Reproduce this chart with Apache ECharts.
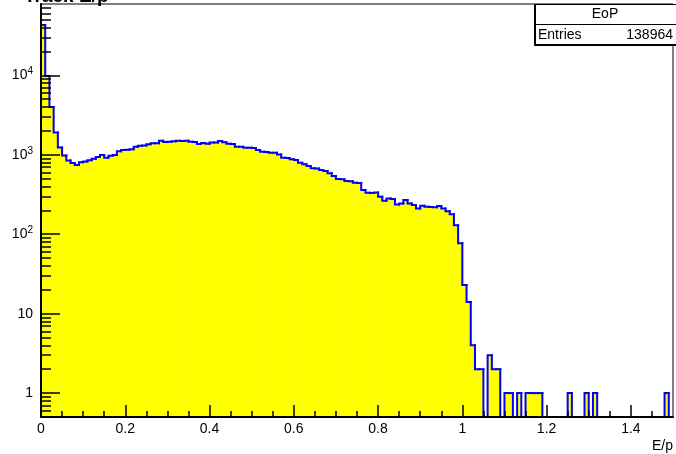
<!DOCTYPE html>
<html><head><meta charset="utf-8">
<script src="https://cdn.jsdelivr.net/npm/echarts@6/dist/echarts.min.js"></script>
<style>html,body{margin:0;padding:0;background:#fff}#c{width:676px;height:454px}</style>
</head><body><div id="c"></div>
<script>
// Histogram "EoP": 150 bins of width 0.01 from 0 to 1.5
const histName = 'EoP';
const entries = 138964;
const binStart = 0;
const binWidth = 0.01;
const counts = [
  43000, 9800, 3990, 1905, 1233, 982, 849, 786, 741, 805,
  820, 855, 890, 940, 990, 920, 975, 990, 1110, 1145,
  1160, 1170, 1260, 1300, 1310, 1360, 1400, 1395, 1500, 1450,
  1460, 1480, 1500, 1495, 1505, 1460, 1450, 1370, 1410, 1372,
  1430, 1428, 1490, 1432, 1376, 1370, 1262, 1258, 1225, 1221,
  1213, 1146, 1091, 1080, 1060, 1057, 1011, 916, 913, 875,
  857, 793, 757, 720, 674, 671, 641, 623, 583, 539,
  494, 491, 466, 463, 444, 441, 359, 332, 330, 334,
  296, 264, 282, 277, 237, 244, 269, 244, 233, 211,
  228, 221, 220, 218, 226, 211, 194, 178, 130, 77,
  23, 14, 4, 2, 2, 0, 3, 2, 2, 0,
  1, 1, 0, 1, 0, 1, 1, 1, 1, 0,
  0, 0, 0, 0, 0, 1, 0, 0, 0, 1,
  0, 1, 0, 0, 0, 0, 0, 0, 0, 0,
  0, 0, 0, 0, 0, 0, 0, 0, 1, 0
];
const xMajorTicks = [0, 0.2, 0.4, 0.6, 0.8, 1, 1.2, 1.4];
const xMinorTicks = [0.05, 0.1, 0.15, 0.25, 0.3, 0.35, 0.45, 0.5, 0.55, 0.65, 0.7, 0.75,
  0.85, 0.9, 0.95, 1.05, 1.1, 1.15, 1.25, 1.3, 1.35, 1.45];
const yMajorTicks = [1, 10, 100, 1000, 10000];
const yMinorTicks = [0.6, 0.7, 0.8, 0.9,
  2, 3, 4, 5, 6, 7, 8, 9,
  20, 30, 40, 50, 60, 70, 80, 90,
  200, 300, 400, 500, 600, 700, 800, 900,
  2000, 3000, 4000, 5000, 6000, 7000, 8000, 9000,
  20000, 30000, 40000, 50000, 60000, 70000];
const xMin = 0, xMax = 1.5, yMin = 0.5, yMax = 79000;

const binData = counts.map((c, i) => [
  binStart + i * binWidth, binStart + (i + 1) * binWidth, c, i > 0 ? counts[i - 1] : 0
]);

function yOf(api, cs, v) {
  const bottom = cs.y + cs.height;
  if (!(v > 0)) return bottom;
  return Math.min(api.coord([0, v])[1], bottom);
}
function renderFill(params, api) {
  const cs = params.coordSys;
  const v = api.value(2);
  if (!(v > 0)) return null;
  const x0 = api.coord([api.value(0), 1])[0];
  const x1 = api.coord([api.value(1), 1])[0];
  const bottom = cs.y + cs.height;
  const y = yOf(api, cs, v);
  return { type: 'rect', shape: { x: x0, y: y, width: x1 - x0 + 0.6, height: bottom - y },
    style: { fill: '#ffff00' } };
}
function renderLine(params, api) {
  const cs = params.coordSys;
  const x0 = api.coord([api.value(0), 1])[0];
  const x1 = api.coord([api.value(1), 1])[0];
  const yv = yOf(api, cs, api.value(2));
  const yp = yOf(api, cs, api.value(3));
  return { type: 'polyline', shape: { points: [[x0, yp], [x0, yv], [x1, yv]] },
    style: { stroke: '#0000ff', lineWidth: 2, fill: null, lineJoin: 'miter', lineCap: 'square' } };
}

const font = 'Liberation Sans, Arial, Helvetica, sans-serif';
const chart = echarts.init(document.getElementById('c'), null, { renderer: 'canvas' });
chart.setOption({
  animation: false,
  backgroundColor: '#ffffff',
  grid: { left: 41, right: 3, top: 4, bottom: 37, show: true, borderColor: '#000', borderWidth: 1,
    backgroundColor: 'transparent' },
  xAxis: [{
    type: 'value', min: xMin, max: xMax, z: 10,
    axisLine: { show: true, onZero: false, lineStyle: { color: '#000', width: 2 } },
    axisTick: { show: true, inside: true, length: 12, lineStyle: { color: '#000', width: 1.5 }, customValues: xMajorTicks },
    axisLabel: { show: true, margin: 5, color: '#000', fontSize: 14, fontFamily: font, customValues: xMajorTicks,
      formatter: v => String(Math.round(v * 10) / 10) },
    splitLine: { show: false },
    name: 'E/p', nameLocation: 'end', nameGap: 0,
    nameTextStyle: { color: '#000', fontSize: 14, fontFamily: font, align: 'right', verticalAlign: 'top', padding: [22, 0, 0, 0] }
  }, {
    type: 'value', min: xMin, max: xMax, position: 'bottom', z: 10, gridIndex: 0,
    axisLine: { show: false },
    axisTick: { show: true, inside: true, length: 6, lineStyle: { color: '#000', width: 1.5 }, customValues: xMinorTicks },
    axisLabel: { show: false },
    splitLine: { show: false }
  }],
  yAxis: [{
    type: 'log', logBase: 10, min: yMin, max: yMax, z: 10,
    axisLine: { show: true, onZero: false, lineStyle: { color: '#000', width: 2 } },
    axisTick: { show: true, inside: true, length: 19, lineStyle: { color: '#000', width: 1.5 }, customValues: yMajorTicks },
    axisLabel: { show: true, margin: 8, color: '#000', fontSize: 14, fontFamily: font, customValues: yMajorTicks,
      formatter: v => {
        const e = Math.round(Math.log10(v));
        return e <= 1 ? String(Math.round(v)) : '10{sup|' + e + '}';
      },
      rich: { sup: { fontSize: 10, fontFamily: font, color: '#000', padding: [0, 0, 8, 0] } } },
    splitLine: { show: false }
  }, {
    type: 'log', logBase: 10, min: yMin, max: yMax, position: 'left', z: 10,
    axisLine: { show: false },
    axisTick: { show: true, inside: true, length: 10, lineStyle: { color: '#000', width: 1.5 }, customValues: yMinorTicks },
    axisLabel: { show: false },
    splitLine: { show: false }
  }],
  series: [{
    type: 'custom', name: histName, xAxisIndex: 0, yAxisIndex: 0, clip: true, z: 2,
    renderItem: renderFill, data: binData, encode: { x: [0, 1], y: 2 }
  }, {
    type: 'custom', name: histName, xAxisIndex: 0, yAxisIndex: 0, clip: true, z: 3,
    renderItem: renderLine, data: binData, encode: { x: [0, 1], y: 2 }
  }],
  graphic: [
    { type: 'text', left: 24, top: -13, z: 20,
      style: { text: 'Track E/p', font: 'bold 19px ' + font, fill: '#000' } },
    { type: 'rect', z: 20, shape: { x: 534.5, y: 4.5, width: 150, height: 40 },
      style: { fill: '#fff', stroke: '#000', lineWidth: 1 } },
    { type: 'line', z: 21, shape: { x1: 534, y1: 24.5, x2: 676, y2: 24.5 }, style: { stroke: '#000', lineWidth: 1 } },
    { type: 'line', z: 21, shape: { x1: 535.5, y1: 4, x2: 535.5, y2: 45 }, style: { stroke: '#000', lineWidth: 1 } },
    { type: 'line', z: 21, shape: { x1: 534, y1: 45.5, x2: 676, y2: 45.5 }, style: { stroke: '#000', lineWidth: 1 } },
    { type: 'text', z: 22, x: 605, y: 14.5,
      style: { text: histName, font: '14px ' + font, fill: '#000', align: 'center', verticalAlign: 'middle' } },
    { type: 'text', z: 22, x: 538, y: 35,
      style: { text: 'Entries', font: '14px ' + font, fill: '#000', align: 'left', verticalAlign: 'middle' } },
    { type: 'text', z: 22, x: 673, y: 35,
      style: { text: String(entries), font: '14px ' + font, fill: '#000', align: 'right', verticalAlign: 'middle' } }
  ]
});
</script>
</body></html>
